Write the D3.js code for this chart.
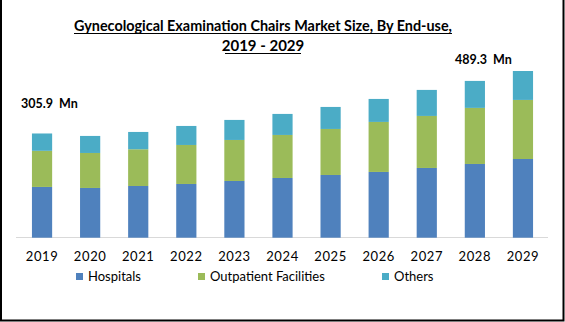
<!DOCTYPE html>
<html>
<head>
<meta charset="utf-8">
<script src="https://cdn.jsdelivr.net/npm/d3@7"></script>
<style>
  html, body { margin: 0; padding: 0; background: #fff; }
  svg { display: block; }
</style>
</head>
<body>
<svg id="chart" width="565" height="322"></svg>
<script>
const years = ["2019","2020","2021","2022","2023","2024","2025","2026","2027","2028","2029"];
const hospitals = [149.0, 146.0, 151.8, 157.7, 166.5, 175.3, 184.1, 193.0, 204.7, 216.4, 231.0];
const outpatient = [106.0, 102.7, 107.8, 114.5, 120.4, 126.3, 135.1, 146.8, 152.7, 164.6, 173.4];
const others = [50.9, 50.0, 50.8, 55.8, 58.8, 61.7, 64.6, 67.5, 76.4, 79.2, 84.9];
const seriesNames = ["Hospitals", "Outpatient Facilities", "Others"];
const colors = ["#4f81bd", "#9bbb59", "#4bacc6"];
const titleLines = ["Gynecological Examination Chairs Market Size, By End-use,", "2019 - 2029"];
const annotations = [{year: "2019", text: "305.9  Mn"}, {year: "2029", text: "489.3  Mn"}];

const svg = d3.select("#chart");
const W = 565, H = 322;
const font = "Lato, 'Open Sans', sans-serif";

svg.append("rect").attr("width", W).attr("height", H).attr("fill", "#fff");

const rows = years.map((y, i) => ({year: y, Hospitals: hospitals[i], "Outpatient Facilities": outpatient[i], Others: others[i]}));
const stack = d3.stack().keys(seriesNames)(rows);

const x = d3.scaleBand().domain(years).range([18, 547]).paddingInner(0.58).paddingOuter(0.29);
const y = d3.scaleLinear().domain([0, 489.3]).range([237.7, 71]);

// axis line
svg.append("line").attr("x1", 16).attr("x2", 548).attr("y1", 237.5).attr("y2", 237.5)
  .attr("stroke", "#d9d9d9").attr("stroke-width", 1);

svg.append("g").selectAll("g").data(stack).join("g")
  .attr("fill", (d, i) => colors[i])
  .selectAll("rect").data(d => d).join("rect")
  .attr("x", d => x(d.data.year))
  .attr("width", x.bandwidth())
  .attr("y", d => y(d[1]))
  .attr("height", d => y(d[0]) - y(d[1]));

// x axis labels
const xAxis = d3.axisBottom(x).tickSize(0).tickPadding(8);
const gx = svg.append("g").attr("transform", "translate(0,243)").call(xAxis);
gx.select(".domain").remove();
gx.selectAll("text").attr("font-family", font).attr("font-size", 13).attr("fill", "#000")
  .attr("dy", "0").attr("y", 18).attr("letter-spacing", "0.6px");

// title
const title = svg.append("g").attr("font-family", font).attr("font-weight", "bold")
  .attr("font-size", 15).attr("text-anchor", "middle").attr("fill", "#000");
title.append("text").attr("x", 263).attr("y", 31).text(titleLines[0])
  .attr("textLength", 378).attr("lengthAdjust", "spacingAndGlyphs");
title.append("text").attr("x", 263).attr("y", 51).text(titleLines[1]);
// underlines
title.append("line").attr("x1", 74).attr("x2", 452).attr("y1", 33.5).attr("y2", 33.5).attr("stroke", "#000").attr("stroke-width", 1);
title.append("line").attr("x1", 225).attr("x2", 301).attr("y1", 53.5).attr("y2", 53.5).attr("stroke", "#000").attr("stroke-width", 1);

// annotations
const annPos = {"2019": {x: 21, y: 108}, "2029": {x: 455, y: 64}};
svg.append("g").selectAll("text").data(annotations).join("text")
  .attr("x", d => annPos[d.year].x).attr("y", d => annPos[d.year].y)
  .attr("font-family", font).attr("font-weight", "bold").attr("font-size", 12.5)
  .attr("fill", "#000").style("white-space", "pre")
  .text(d => d.text);

// legend
const legX = [76, 198, 382];
const leg = svg.append("g").selectAll("g").data(seriesNames).join("g")
  .attr("transform", (d, i) => `translate(${legX[i]},273)`);
leg.append("rect").attr("width", 7).attr("height", 7).attr("fill", (d, i) => colors[i]);
leg.append("text").attr("x", 12).attr("y", 8).attr("font-family", font).attr("font-size", 13)
  .attr("fill", "#000").text(d => d);

// border
svg.append("path").attr("d", `M1,0 V${H-1.5} H${W-1.5} V0`).attr("fill", "none")
  .attr("stroke", "#000").attr("stroke-width", 2);
</script>
</body>
</html>
